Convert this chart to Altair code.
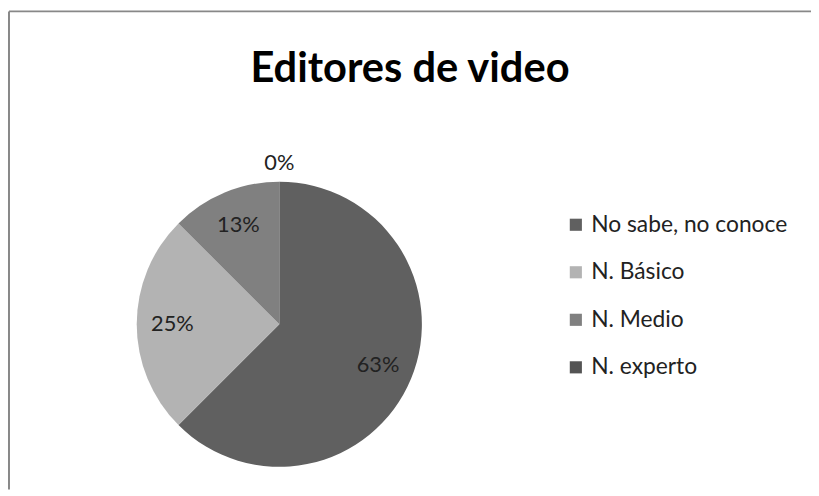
import altair as alt
import pandas as pd

categories = ["No sabe, no conoce", "N. Básico", "N. Medio", "N. experto"]
values = [62.5, 25.0, 12.5, 0.0]
labels = ["63%", "25%", "13%", "0%"]
colors = ["#606060", "#b3b3b3", "#808080", "#545454"]
title_text = "Editores de video"

df = pd.DataFrame({
    "cat": categories,
    "val": values,
    "lab": labels,
    "ord": list(range(len(categories))),
})

FONT = "Lato"
W, H = 810, 483
cx, cy, R = 273, 316, 144

base = alt.Chart(df).encode(
    theta=alt.Theta("val:Q", stack=True, scale=alt.Scale(range=[0, 6.283185307])),
    order=alt.Order("ord:Q"),
)

pie = base.mark_arc(stroke=None, outerRadius=R).encode(
    color=alt.Color(
        "cat:N",
        sort=categories,
        scale=alt.Scale(domain=categories, range=colors),
        legend=alt.Legend(
            title=None,
            orient="none",
            legendX=561,
            legendY=204,
            symbolType="square",
            symbolSize=150,
            symbolStrokeWidth=0,
            symbolOpacity=1,
            labelFont=FONT,
            labelFontSize=23,
            labelColor="#222222",
            labelLimit=400,
            labelOffset=4,
            rowPadding=24,
        ),
    ),
    x=alt.value(cx),
    y=alt.value(cy),
)

inner = base.mark_text(font=FONT, fontSize=22, color="#222222", radius=108).encode(
    text="lab:N",
    x=alt.value(cx),
    y=alt.value(cy),
    opacity=alt.condition("datum.val > 0", alt.value(1), alt.value(0)),
)

outer = base.mark_text(font=FONT, fontSize=22, color="#222222", radius=163).encode(
    text="lab:N",
    x=alt.value(cx),
    y=alt.value(cy),
    opacity=alt.condition("datum.val > 0", alt.value(0), alt.value(1)),
)

title = alt.Chart(pd.DataFrame({"t": [title_text]})).mark_text(
    font=FONT, fontSize=42, fontWeight="bold", color="#000000", baseline="alphabetic", align="center"
).encode(text="t:N", x=alt.value(405), y=alt.value(71))

frame_df = pd.DataFrame({"k": [0]})
left_edge = alt.Chart(frame_df).mark_rule(color="#888888", strokeWidth=2).encode(
    x=alt.value(0), y=alt.value(0), y2=alt.value(H)
)
top_edge = alt.Chart(frame_df).mark_rule(color="#888888", strokeWidth=2).encode(
    y=alt.value(0), x=alt.value(0), x2=alt.value(W)
)

chart = alt.layer(pie, inner, outer, title, left_edge, top_edge).properties(
    width=W, height=H,
    padding={"left": 1, "top": 1, "right": 0, "bottom": 0},
    autosize=alt.AutoSizeParams(type="none"),
    background="white",
).configure_view(stroke=None)

chart.save("out.html", embed_options={"renderer": "svg", "actions": False})
